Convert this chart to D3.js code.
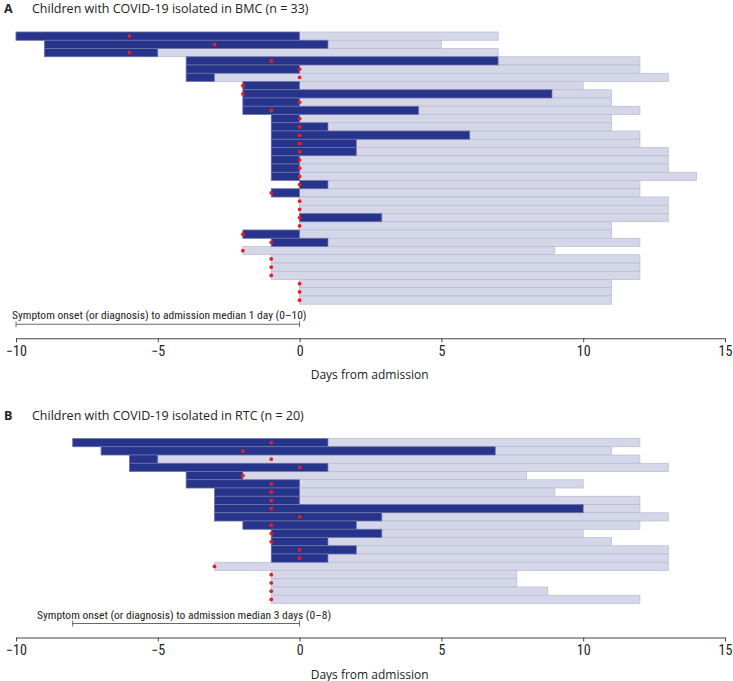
<!DOCTYPE html>
<html lang="en">
<head>
<meta charset="UTF-8" />
<script src="https://d3js.org/d3.v7.min.js"></script>
<title>COVID-19 isolation timelines</title>
<style>
  body { margin: 0; background: #fff; }
  svg text { fill: #222; }
</style>
</head>
<body>
<script>
// panel A - BMC (n = 33)
var startA = [-10,-9,-9,-4,-4,-4,-2,-2,-2,-2,-1,-1,-1,-1,-1,-1,-1,-1,0,-1,0,0,0,0,-2,-1,-2,-1,-1,-1,0,0,0];
var symptomEndA = [0,1,-5,7,0,-3,0,8.9,0,4.2,0,1,6,2,2,0,0,0,1,0,null,null,2.9,null,0,1,null,null,null,null,null,null,null];
var endA = [7,5,7,12,12,13,10,11,11,12,11,11,12,12,13,13,13,14,12,12,13,13,13,11,11,12,9,12,12,12,11,11,11];
var dotA = [-6,-3,-6,-1,0,0,-2,-2,0,-1,0,0,0,0,0,0,0,0,0,-1,0,0,0,0,-2,-1,-2,-1,-1,-1,0,0,0];

// panel B - RTC (n = 20)
var startB = [-8,-7,-6,-6,-4,-4,-3,-3,-3,-3,-2,-1,-1,-1,-1,-3,-1,-1,-1,-1];
var symptomEndB = [1,6.9,-5,1,-2,0,0,0,10,2.9,2,2.9,1,2,1,null,null,null,null,null];
var endB = [12,11,12,13,8,10,9,12,12,13,12,10,11,13,13,13,7.66,7.66,8.75,12];
var dotB = [-1,-2,-1,0,-2,-1,-1,-1,-1,0,-1,-1,-1,0,0,-3,-1,-1,-1,-1];

var tickValues = [-10, -5, 0, 5, 10, 15];

var w = 733, h = 681;
var rowH = 8.25;

var svg = d3.select("body").append("svg")
  .attr("width", w)
  .attr("height", h);

var x = d3.scaleLinear().domain([-10, 15]).range([16, 725]);

function drawPanel(opt) {
  var n = opt.start.length;
  var g = svg.append("g");
  var y = d3.scaleBand().domain(d3.range(n))
    .range([opt.top, opt.top + n * rowH]).padding(0);

  // title
  var t = g.append("text")
    .attr("x", 4).attr("y", opt.top - 19)
    .style("font-family", "'Open Sans', sans-serif")
    .style("font-size", "12.5px");
  t.append("tspan").style("font-weight", "bold").text(opt.letter);
  t.append("tspan").attr("x", 32).text(opt.title);

  var rows = d3.range(n);

  // whole isolation period
  g.selectAll(".iso").data(rows).enter().append("rect")
    .attr("x", function (i) { return x(opt.start[i]); })
    .attr("y", function (i) { return y(i); })
    .attr("width", function (i) { return x(opt.end[i]) - x(opt.start[i]); })
    .attr("height", y.bandwidth())
    .attr("fill", "#d5d7e9")
    .attr("stroke", "#b8bbcf")
    .attr("stroke-width", 0.7);

  // symptomatic period
  g.selectAll(".sym").data(rows.filter(function (i) { return opt.symEnd[i] !== null; }))
    .enter().append("rect")
    .attr("x", function (i) { return x(opt.start[i]); })
    .attr("y", function (i) { return y(i); })
    .attr("width", function (i) { return x(opt.symEnd[i]) - x(opt.start[i]); })
    .attr("height", y.bandwidth())
    .attr("fill", "#27348b")
    .attr("stroke", "#7279ad")
    .attr("stroke-width", 0.7);

  // diagnosis
  g.selectAll(".dot").data(rows).enter().append("circle")
    .attr("cx", function (i) { return x(opt.dot[i]); })
    .attr("cy", function (i) { return y(i) + y.bandwidth() / 2; })
    .attr("r", 1.9)
    .attr("fill", "#ec1c24");

  var bottom = opt.top + n * rowH;

  // onset-to-admission annotation
  g.append("text")
    .attr("x", opt.noteX).attr("y", bottom + 15)
    .style("font-family", "'Liberation Sans Narrow', 'Roboto Condensed', sans-serif")
    .style("font-size", "11.5px")
    .text(opt.note);
  var by = bottom + 20;
  g.append("line").attr("x1", x(opt.noteFrom)).attr("x2", x(0))
    .attr("y1", by).attr("y2", by).attr("stroke", "#444").attr("stroke-width", 0.8);
  [opt.noteFrom, 0].forEach(function (v) {
    g.append("line").attr("x1", x(v)).attr("x2", x(v))
      .attr("y1", by - 3).attr("y2", by + 3).attr("stroke", "#444").attr("stroke-width", 0.8);
  });

  // axis
  var axis = g.append("g")
    .attr("transform", "translate(0," + (bottom + 34) + ")")
    .call(d3.axisBottom(x).tickValues(tickValues).tickSize(4).tickSizeOuter(0));
  axis.select(".domain").attr("stroke", "#444");
  axis.selectAll(".tick line").attr("stroke", "#444");
  axis.selectAll(".tick text")
    .attr("y", 8)
    .style("font-family", "'Liberation Sans Narrow', 'Roboto Condensed', sans-serif")
    .style("font-size", "14px")
    .style("fill", "#222");

  g.append("text")
    .attr("x", x(0) + 70).attr("y", bottom + 75)
    .attr("text-anchor", "middle")
    .style("font-family", "'Open Sans', sans-serif")
    .style("font-size", "12px")
    .text("Days from admission");
}

drawPanel({
  letter: "A", title: "Children with COVID-19 isolated in BMC (n = 33)",
  top: 32, start: startA, symEnd: symptomEndA, end: endA, dot: dotA,
  note: "Symptom onset (or diagnosis) to admission median 1 day (0\u201310)",
  noteX: 12, noteFrom: -10
});

drawPanel({
  letter: "B", title: "Children with COVID-19 isolated in RTC (n = 20)",
  top: 438.5, start: startB, symEnd: symptomEndB, end: endB, dot: dotB,
  note: "Symptom onset (or diagnosis) to admission median 3 days (0\u20138)",
  noteX: 37, noteFrom: -8
});
</script>
</body>
</html>
